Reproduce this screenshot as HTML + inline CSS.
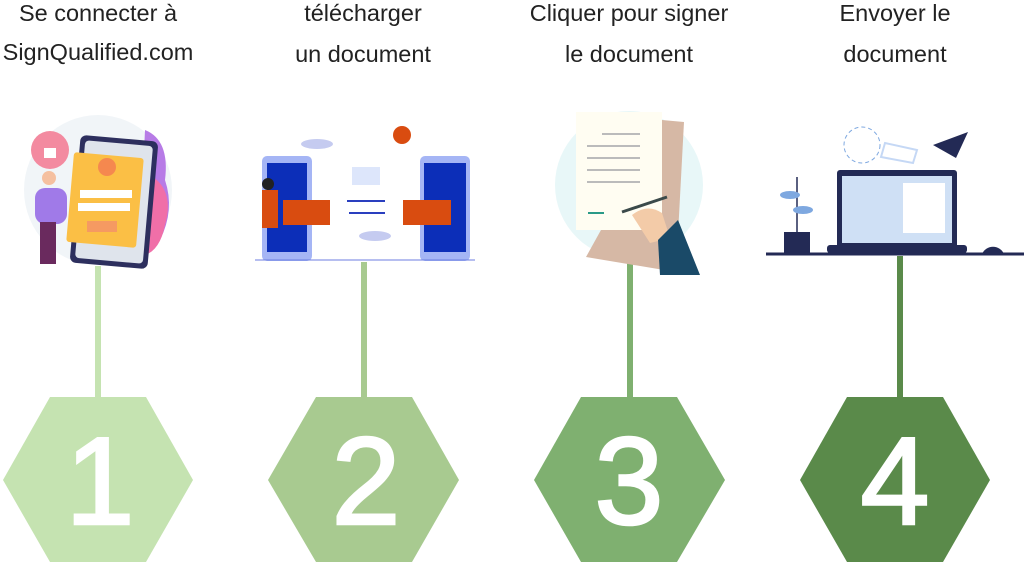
<!DOCTYPE html>
<html><head><meta charset="utf-8"><style>
body{margin:0;background:#fff;width:1024px;height:563px;overflow:hidden}
svg{display:block}
.t{font-family:"Liberation Sans",sans-serif;font-size:23.5px;fill:#222;text-anchor:middle}
.n{font-family:"Liberation Sans",sans-serif;font-size:124px;fill:#fff;stroke:#fff;stroke-width:2.5;text-anchor:middle}
</style></head><body>
<svg width="1024" height="563" viewBox="0 0 1024 563">
<text class="t" x="98" y="21">Se connecter à</text>
<text class="t" x="98" y="60">SignQualified.com</text>
<text class="t" x="363" y="21">télécharger</text>
<text class="t" x="363" y="62">un document</text>
<text class="t" x="629" y="21">Cliquer pour signer</text>
<text class="t" x="629" y="62">le document</text>
<text class="t" x="895" y="21">Envoyer le</text>
<text class="t" x="895" y="62">document</text>

<rect x="95" y="266" width="6" height="134" fill="#c5e3b1"/>
<rect x="361" y="262" width="6" height="138" fill="#a8ca90"/>
<rect x="627" y="256" width="6" height="144" fill="#7fb070"/>
<rect x="897" y="256" width="6" height="144" fill="#5a8a4a"/>

<polygon points="50,397 146,397 193,480 146,562 50,562 3,480" fill="#c5e3b1"/>
<polygon points="316,397 412,397 459,480 412,562 316,562 268,480" fill="#a8ca90"/>
<polygon points="581,397 677,397 725,480 677,562 581,562 534,480" fill="#7fb070"/>
<polygon points="847,397 943,397 990,480 943,562 847,562 800,480" fill="#5a8a4a"/>
<text class="n" x="100" y="524">1</text>
<text class="n" x="366" y="524">2</text>
<text class="n" x="629" y="524">3</text>
<text class="n" x="895" y="524">4</text>

<ellipse cx="98" cy="190" rx="74" ry="75" fill="#f1f5f8"/>
<path d="M145 130 q25 10 20 50 q10 30 -5 60 l-20 0z" fill="#b77be6"/>
<path d="M150 175 q25 15 15 50 q-5 25 -20 30z" fill="#f06fa8"/>
<rect x="75" y="138" width="78" height="128" rx="6" fill="#2d2f5e" transform="rotate(5 114 202)"/>
<rect x="80" y="143" width="68" height="118" rx="4" fill="#dfe4ec" transform="rotate(5 114 202)"/>
<rect x="70" y="155" width="70" height="90" rx="3" fill="#fbbf45" transform="rotate(5 105 200)"/>
<circle cx="107" cy="167" r="9" fill="#f5884f"/>
<rect x="80" y="190" width="52" height="8" fill="#fff"/>
<rect x="78" y="203" width="52" height="8" fill="#fff"/>
<rect x="87" y="221" width="30" height="11" fill="#f59a62"/>
<circle cx="50" cy="150" r="19" fill="#f38aa0"/>
<rect x="44" y="148" width="12" height="10" fill="#fff"/>
<rect x="35" y="188" width="32" height="36" rx="10" fill="#a07ae8"/>
<circle cx="49" cy="178" r="7" fill="#f5c0a0"/>
<rect x="40" y="222" width="16" height="42" fill="#6a2a5e"/>

<rect x="262" y="156" width="50" height="105" rx="5" fill="#a5b5f5"/>
<rect x="267" y="163" width="40" height="89" fill="#0c2eb8"/>
<rect x="420" y="156" width="50" height="105" rx="5" fill="#a5b5f5"/>
<rect x="424" y="163" width="42" height="89" fill="#0c2eb8"/>
<rect x="283" y="200" width="47" height="25" fill="#d94c10"/>
<rect x="403" y="200" width="48" height="25" fill="#d94c10"/>
<rect x="352" y="167" width="28" height="18" fill="#dde6fb"/>
<path d="M347 201 h38 M349 213 h36" stroke="#2a3fbf" stroke-width="2"/>
<circle cx="402" cy="135" r="9" fill="#d94c10"/>
<ellipse cx="317" cy="144" rx="16" ry="5" fill="#c5cbf0"/>
<ellipse cx="375" cy="236" rx="16" ry="5" fill="#c5cbf0"/>
<path d="M255 260 h220" stroke="#6c7de0" stroke-width="1"/>
<rect x="262" y="190" width="16" height="38" fill="#d94c10"/>
<circle cx="268" cy="184" r="6" fill="#222"/>

<circle cx="629" cy="185" r="74" fill="#e8f7f8"/>
<path d="M662 120 l22 2 -8 150 -90 -15z" fill="#d6b8a5"/>
<rect x="576" y="112" width="86" height="118" fill="#fffdf2"/>
<path d="M602 134 h38 M587 146 h53 M587 158 h53 M587 170 h53 M587 182 h53" stroke="#bbb" stroke-width="2"/>
<path d="M588 213 h16" stroke="#2a9a88" stroke-width="2"/>
<path d="M622 212 l45 -15" stroke="#3b4a4a" stroke-width="3"/>
<path d="M632 215 q15 -12 30 -2 l8 25 -20 5z" fill="#f3cba8"/>
<path d="M658 240 l20 -20 22 55 -40 0z" fill="#1a4a68"/>

<path d="M766 254 h258" stroke="#232a55" stroke-width="3"/>
<rect x="837" y="170" width="120" height="78" rx="3" fill="#232a55"/>
<rect x="842" y="176" width="110" height="67" fill="#cfe0f5"/>
<rect x="903" y="183" width="42" height="50" fill="#fff"/>
<rect x="827" y="245" width="140" height="8" rx="3" fill="#232a55"/>
<rect x="784" y="232" width="26" height="22" fill="#232a55"/>
<path d="M797 232 v-55" stroke="#232a55" stroke-width="1.5"/>
<ellipse cx="790" cy="195" rx="10" ry="4" fill="#7ea8e0"/>
<ellipse cx="803" cy="210" rx="10" ry="4" fill="#7ea8e0"/>
<path d="M933 145 l35 -13 -12 26z" fill="#232a55"/>
<circle cx="862" cy="145" r="18" fill="none" stroke="#7ea8e0" stroke-dasharray="4 3"/>
<path d="M885 143 l32 7 -4 13 -32 -6z" fill="none" stroke="#c5d8f5" stroke-width="2"/>
<path d="M982 254 a12 12 0 0 1 22 0z" fill="#232a55"/>
</svg>
</body></html>
